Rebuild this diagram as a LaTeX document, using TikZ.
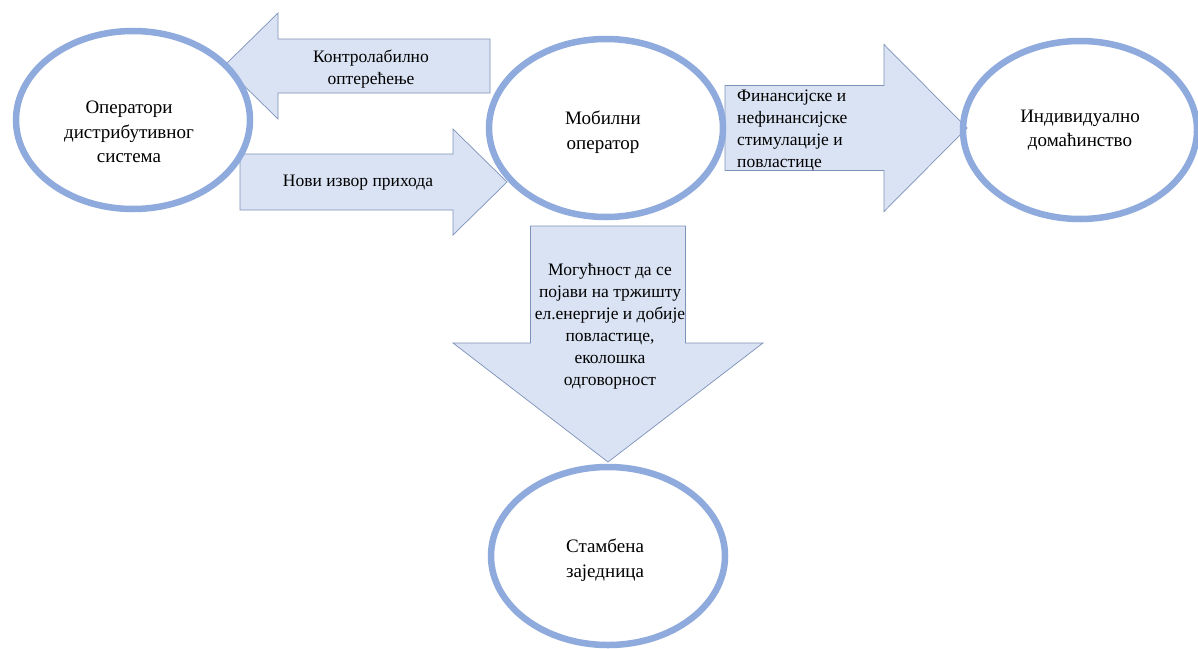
\documentclass[tikz,border=0pt]{standalone}
\usepackage{fontspec}
\setmainfont{Liberation Serif}
\usetikzlibrary{shapes.geometric}

\definecolor{ringblue}{RGB}{143,170,220}
\definecolor{arrowfill}{RGB}{218,227,243}
\definecolor{arrowline}{RGB}{125,145,185}

\tikzstyle{actor}=[draw=ringblue,line width=6.5pt,ellipse,
    minimum width=234pt,minimum height=178pt,inner sep=0pt]
\tikzstyle{actor text}=[inner sep=0pt,align=center,
    font=\fontsize{19}{24.5}\selectfont]
\tikzstyle{block arrow}=[fill=arrowfill,draw=arrowline,line width=0.7pt]
\tikzstyle{flow text}=[inner sep=0pt,align=center,
    font=\fontsize{17.5}{22}\selectfont]
% horizontal block arrow: tail, head base, tip, axis, shaft half, head half
\newcommand{\harrow}[7][]{
    \draw[block arrow,#1] (#2,{#5-#6}) -- (#3,{#5-#6}) -- (#3,{#5-#7}) --
        (#4,#5) -- (#3,{#5+#7}) -- (#3,{#5+#6}) -- (#2,{#5+#6}) -- cycle;
}
% vertical block arrow, same arguments
\newcommand{\varrow}[7][]{
    \draw[block arrow,#1] ({#5-#6},#2) -- ({#5-#6},#3) -- ({#5-#7},#3) --
        (#5,#4) -- ({#5+#7},#3) -- ({#5+#6},#3) -- ({#5+#6},#2) -- cycle;
}

\begin{document}
\begin{tikzpicture}[x=1pt,y=-1pt]
    \path[use as bounding box,fill=white] (0,0) rectangle (1198,648);
    %
    \harrow{490}{278}{224}{66}{27}{53}
    \harrow{240}{453}{507}{182}{28}{53}
    \harrow{725}{884}{967}{128}{42.5}{83.5}
    \varrow{226}{343}{462}{608}{77.5}{155}
    %
    \node[flow text] (load) at (371,69) {Контролабилно\\оптерећење};
    \node[flow text] (income) at (358,183) {Нови извор прихода};
    \node[flow text,align=left,anchor=west] (bonus) at (737,130)
        {Финансијске и\\нефинансијске\\стимулације и\\повластице};
    \node[flow text] (market) at (610,326) {Могућност да се\\појави на тржишту\\ел.енергије и добије\\повластице,\\еколошка\\одговорност};
    %
    \node[actor] (dso) at (133,120) {};
    \node[actor text] at ([xshift=-4pt,yshift=-12pt]dso) {Оператори\\дистрибутивног\\система};
    \node[actor] (mobile) at (606,128) {};
    \node[actor text] at ([xshift=-3pt,yshift=-4pt]mobile) {Мобилни\\оператор};
    \node[actor] (home) at (1080,130) {};
    \node[actor text] at (home) {Индивидуално\\домаћинство};
    \node[actor] (block) at (608,556) {};
    \node[actor text] at ([xshift=-3pt,yshift=-4pt]block) {Стамбена\\заједница};
\end{tikzpicture}
\end{document}
